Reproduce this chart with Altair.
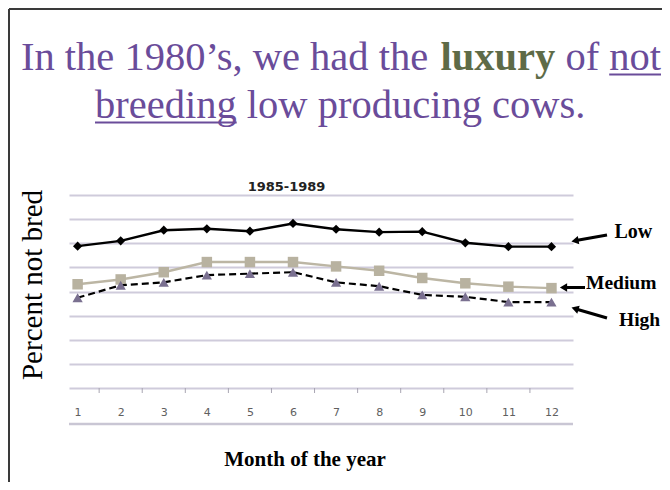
import altair as alt
import pandas as pd

# ---------------- data ----------------
months = [1, 2, 3, 4, 5, 6, 7, 8, 9, 10, 11, 12]
low = [29.4, 30.5, 32.7, 33.0, 32.5, 34.1, 32.9, 32.3, 32.4, 30.1, 29.3, 29.3]
medium = [21.5, 22.5, 24.0, 26.1, 26.1, 26.1, 25.2, 24.3, 22.8, 21.7, 21.0, 20.7]
high = [18.7, 21.3, 21.9, 23.4, 23.7, 24.0, 21.9, 21.1, 19.3, 18.9, 17.8, 17.8]
grid_values = [0, 5, 10, 15, 20, 25, 30, 35, 40]
tick_positions = [m + 0.5 for m in months[:-1]]

# ---------------- layout ----------------
OX, OY = 69, 195          # plot origin in page pixels
W, H = 504, 193
SERIF = "Liberation Serif, Times New Roman, serif"
SANS = "DejaVu Sans, sans-serif"
PURPLE = "#6a4c9a"
GREEN = "#5e6b47"

one = alt.Data(values=[{"a": 1}])


def px(x):
    return x - OX


def py(y):
    return y - OY


def text(t, x, y, size, color="black", font=SERIF, weight="normal",
         align="left", baseline="alphabetic", angle=0):
    return alt.Chart(one).mark_text(
        text=t, font=font, fontSize=size, fontWeight=weight, color=color,
        align=align, baseline=baseline, angle=angle
    ).encode(x=alt.value(px(x)), y=alt.value(py(y)))


def seg(x1, y1, x2, y2, color="black", width=2):
    return alt.Chart(one).mark_rule(color=color, strokeWidth=width).encode(
        x=alt.value(px(x1)), y=alt.value(py(y1)),
        x2=alt.value(px(x2)), y2=alt.value(py(y2)))


def head(x, y, angle, size=70):
    return alt.Chart(one).mark_point(
        shape="triangle-up", filled=True, size=size, angle=angle,
        color="black", opacity=1
    ).encode(x=alt.value(px(x)), y=alt.value(py(y)))


xscale = alt.Scale(domain=[0.8, 12.5], nice=False, zero=False)
yscale = alt.Scale(domain=[0, 40], nice=False, zero=False)

XENC = alt.X("month:Q", scale=xscale,
             axis=alt.Axis(values=months, title=None, grid=False, domain=False, ticks=False,
                           labelFont=SANS, labelFontSize=11, labelColor="#606060",
                           labelPadding=18, labelFlush=False))
YENC = alt.Y("value:Q", scale=yscale,
             axis=alt.Axis(values=grid_values, labels=False, ticks=False, domain=False,
                           title=None, grid=True, gridColor="#cfcbdb", gridWidth=1.8))


def series(vals, name):
    return pd.DataFrame({"month": months, "value": vals, "series": name})


def line_layer(vals, name, color, dash=None, shape="circle", mcolor="black", msize=60, sw=2.2):
    base = alt.Chart(series(vals, name))
    kw = dict(color=color, strokeWidth=sw)
    if dash:
        kw["strokeDash"] = dash
    ln = base.mark_line(**kw).encode(x=XENC, y=YENC)
    pt = base.mark_point(shape=shape, filled=True, size=msize, color=mcolor, opacity=1).encode(
        x=XENC, y=YENC)
    return ln + pt


ticks = alt.Chart(pd.DataFrame({"month": tick_positions})).mark_rule(
    color="#a8a5b2", strokeWidth=1).encode(
    x=XENC, y=alt.value(H), y2=alt.value(H + 5))

layers = [
    ticks,
    seg(69, 424, 573, 424, color="#c9c6d4", width=2.5),
    line_layer(low, "Low", "black", shape="diamond", mcolor="black", msize=85, sw=2.4),
    line_layer(medium, "Medium", "#bcb6a4", shape="square", mcolor="#b8b2a0", msize=110, sw=2.4),
    line_layer(high, "High", "black", dash=[7, 4], shape="triangle-up", mcolor="#7a7090", msize=105, sw=2.2),
    # frame
    seg(9, 9, 662, 9, color="#3a3a3a", width=2),
    seg(9, 9, 9, 482, color="#3a3a3a", width=2),
    # slide title
    text("In the 1980\u2019s, we had the", 21, 70, 40.5, PURPLE),
    text("luxury", 440.5, 70, 40.5, GREEN, weight="bold"),
    text("of", 565.4, 70, 40.5, PURPLE),
    text("not", 609.2, 70, 40.5, PURPLE),
    seg(609.2, 74.5, 661, 74.5, color=PURPLE, width=2),
    text("breeding", 95, 118, 40.5, PURPLE),
    seg(95, 122.5, 236.7, 122.5, color=PURPLE, width=2),
    text("low producing cows.", 246.8, 118, 40.5, PURPLE),
    # chart texts
    text("1985-1989", 286.5, 190.5, 13, "#222222", font=SANS, weight="bold", align="center"),
    text("Percent not bred", 42, 285, 29, "black", angle=270, align="center"),
    text("Month of the year", 305, 466, 21, "black", weight="bold", align="center"),
    # annotations
    text("Low", 614.5, 237.5, 20, "black", weight="bold"),
    text("Medium", 586, 288.5, 19.5, "black", weight="bold"),
    text("High", 619, 326, 19.5, "black", weight="bold"),
    seg(607, 235, 576, 240.6, width=3),
    head(575, 240.8, 259.7),
    seg(585, 287.5, 565, 287.5, width=3),
    head(563.5, 287.5, 270),
    seg(607, 318, 576, 309, width=3),
    head(575, 308.6, 286.6),
]

chart = alt.layer(*layers).properties(
    width=W, height=H,
    autosize=alt.AutoSizeParams(type="none"),
    padding={"left": 61, "top": 187, "right": 89, "bottom": 94},
    background="white",
).configure_view(stroke=None)

chart.save("out.html", embed_options={"renderer": "svg", "actions": False})
